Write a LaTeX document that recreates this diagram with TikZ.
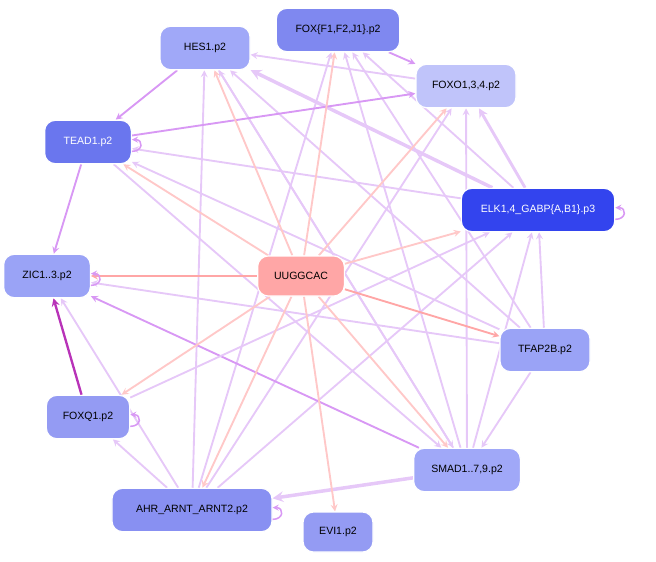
\documentclass[tikz,border=0pt]{standalone}
\usepackage{fontspec}
\setmainfont{Liberation Sans}
\pgfdeclarelayer{bg}
\pgfsetlayers{bg,main}
\definecolor{cA}{HTML}{A0A8F8}
\definecolor{cB}{HTML}{7F88F0}
\definecolor{cC}{HTML}{C0C4FA}
\definecolor{cD}{HTML}{6A76EE}
\definecolor{cE}{HTML}{3344EE}
\definecolor{cF}{HTML}{9AA3F6}
\definecolor{cG}{HTML}{8890F2}
\definecolor{lav}{HTML}{E6C8F8}
\definecolor{pur}{HTML}{D898F4}
\definecolor{pnk}{HTML}{FFC8C8}
\begin{document}
\begin{tikzpicture}[x=0.03cm,y=-0.03cm,
    tf/.style={draw=white, line width=1pt, rounded corners=9pt, minimum height=1.3cm, font=\small},
    mir/.style={->, line width=1.6pt, draw=pnk, >=stealth},
    reg/.style={->, line width=1.6pt, draw=lav, >=stealth},
    self/.style={->, line width=1.3pt, draw=pur, >=stealth, out=0, in=0, looseness=2.5}]
        \useasboundingbox (0,0) rectangle (656,561);

        \node(hes) at (205,48) [tf, fill=cA, minimum width=2.7cm]{HES1.p2};
        \node(fox) at (338,30) [tf, fill=cB, minimum width=3.7cm]{FOX\{F1,F2,J1\}.p2};
        \node(foxo) at (466,86) [tf, fill=cC, minimum width=3cm]{FOXO1,3,4.p2};
        \node(tead) at (88,142) [tf, fill=cD, text=white, minimum width=2.6cm]{TEAD1.p2};
        \node(elk) at (538,210) [tf, fill=cE, text=white, minimum width=4.6cm]{ELK1,4\_GABP\{A,B1\}.p3};
        \node(zic) at (47,276) [tf, fill=cF, minimum width=2.6cm]{ZIC1..3.p2};
        \node(mir) at (301,276) [tf, fill=red!35, minimum width=2.6cm, minimum height=1.2cm]{UUGGCAC};
        \node(tfap) at (545,350) [tf, fill=cF, minimum width=2.7cm]{TFAP2B.p2};
        \node(foxq) at (88,417) [tf, fill=cG!90!white, minimum width=2.5cm]{FOXQ1.p2};
        \node(smad) at (467,470) [tf, fill=cA, minimum width=3.2cm]{SMAD1..7,9.p2};
        \node(ahr) at (192,510) [tf, fill=cG, minimum width=4.8cm]{AHR\_ARNT\_ARNT2.p2};
        \node(evi) at (338,532) [tf, fill=cG!90!white, minimum width=2.1cm, minimum height=1.2cm]{EVI1.p2};

        \begin{pgfonlayer}{bg}
        \draw[reg](ahr) -- (zic);
        \draw[reg](ahr) -- (foxq);
        \draw[reg](ahr) -- (hes);
        \draw[reg](ahr) -- (fox);
        \draw[reg](ahr) -- (foxo);
        \draw[reg](ahr) -- (elk);
        \draw[reg,line width=3pt](smad) -- (ahr);
        \draw[reg](smad) -- (elk);
        \draw[reg](smad) -- (foxo);
        \draw[reg](smad) -- (fox);
        \draw[reg](smad) -- (hes);
        \draw[reg,draw=pur](smad) -- (zic);
        \draw[reg](tfap) -- (zic);
        \draw[reg](tfap) -- (tead);
        \draw[reg](tfap) -- (elk);
        \draw[reg](tfap) -- (smad);
        \draw[reg](tfap) -- (hes);
        \draw[reg](tfap) -- (fox);
        \draw[reg,line width=3pt](elk) -- (hes);
        \draw[reg](elk) -- (fox);
        \draw[reg,line width=2.5pt](elk) -- (foxo);
        \draw[reg](elk) -- (tead);
        \draw[reg](foxo) -- (hes);
        \draw[reg](hes) -- (smad);
        \draw[reg](tead) -- (smad);
        \draw[reg](foxq) -- (elk);
        \draw[reg,draw=pur](fox) -- (foxo);
        \draw[reg,draw=pur](hes) -- (tead);
        \draw[reg,draw=pur](tead) -- (foxo);
        \draw[reg,draw=pur](tead) -- (zic);
        \draw[reg,draw=violet!70!magenta!80,line width=2pt](foxq) -- (zic);

        \draw[mir](mir) -- (hes);
        \draw[mir](mir) -- (fox);
        \draw[mir](mir) -- (foxo);
        \draw[mir](mir) -- (tead);
        \draw[mir](mir) -- (elk);
        \draw[mir,draw=red!35](mir) -- (zic);
        \draw[mir,draw=red!35](mir) -- (tfap);
        \draw[mir](mir) -- (foxq);
        \draw[mir](mir) -- (smad);
        \draw[mir](mir) -- (evi);
        \draw[mir](mir) -- (ahr);
        \end{pgfonlayer}

        \draw[self] ([yshift=-8pt]tead.east) to ([yshift=2pt]tead.east);
        \draw[self] ([yshift=-8pt]zic.east) to ([yshift=2pt]zic.east);
        \draw[self] ([yshift=-8pt]foxq.east) to ([yshift=2pt]foxq.east);
        \draw[self] ([yshift=-8pt]elk.east) to ([yshift=2pt]elk.east);
        \draw[self] ([yshift=-8pt]ahr.east) to ([yshift=2pt]ahr.east);
\end{tikzpicture}
\end{document}
